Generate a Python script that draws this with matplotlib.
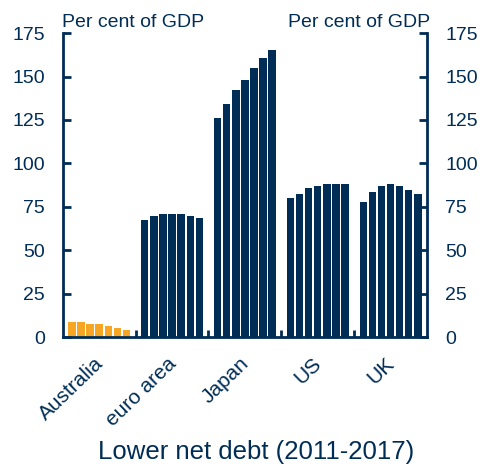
import numpy as np
import matplotlib
matplotlib.use("Agg")
import matplotlib.pyplot as plt

plt.rcParams['font.family'] = ['Liberation Sans', 'DejaVu Sans']

navy = '#002D56'
orange = '#F6A623'

countries = ["Australia", "euro area", "Japan", "US", "UK"]
years = [2011, 2012, 2013, 2014, 2015, 2016, 2017]
australia = [8.8, 8.8, 7.5, 7.5, 6.5, 5.2, 4.0]
euro_area = [67.4, 69.7, 70.8, 70.8, 70.8, 69.7, 68.5]
japan = [126.1, 134.1, 142.2, 147.9, 154.9, 160.6, 165.2]
us = [80.0, 82.3, 85.8, 86.9, 88.1, 88.1, 88.1]
uk = [77.7, 83.5, 86.9, 88.1, 86.9, 84.6, 82.3]
yticks = [0, 25, 50, 75, 100, 125, 150, 175]

series = [australia, euro_area, japan, us, uk]
colours = [orange, navy, navy, navy, navy]

fig = plt.figure(figsize=(4.83, 4.66), dpi=100)
ax = fig.add_axes([0.130, 0.2768, 0.754, 0.652])

slot = len(years) + 1
for g, vals in enumerate(series):
    x = g * slot + np.arange(len(vals))
    ax.bar(x, vals, width=0.82, color=colours[g], linewidth=0)

ax.set_xlim(-1, len(series) * slot - 1)
ax.set_ylim(0, 175)
ax.set_yticks(yticks)

# labels hang from a point just right of each group's centre
centres = [g * slot + (len(years) - 1) / 2 + 0.55 for g in range(len(series))]
ax.set_xticks(centres)
ax.set_xticklabels(countries, rotation=44, ha='right', va='baseline',
                   rotation_mode='anchor', fontsize=15, color=navy)
ax.set_xticks([g * slot + len(years) for g in range(len(series) - 1)], minor=True)
ax.tick_params(axis='x', which='major', length=0, pad=20)
ax.tick_params(axis='x', which='minor', direction='in', length=5, width=2, color=navy)

ax.tick_params(axis='y', direction='in', length=6, width=2, color=navy,
               labelsize=14, labelcolor=navy, pad=13,
               right=True, labelright=True)

for side in ['left', 'right', 'bottom']:
    ax.spines[side].set_color(navy)
    ax.spines[side].set_linewidth(2)
ax.spines['top'].set_visible(False)

fig.text(0.128, 0.9414, "Per cent of GDP", fontsize=14, color=navy, ha='left', va='baseline')
fig.text(0.890, 0.9414, "Per cent of GDP", fontsize=14, color=navy, ha='right', va='baseline')
fig.text(0.53, 0.016, "Lower net debt (2011-2017)", fontsize=18.5, color=navy,
         ha='center', va='baseline')

fig.savefig("out.png", dpi=100)
